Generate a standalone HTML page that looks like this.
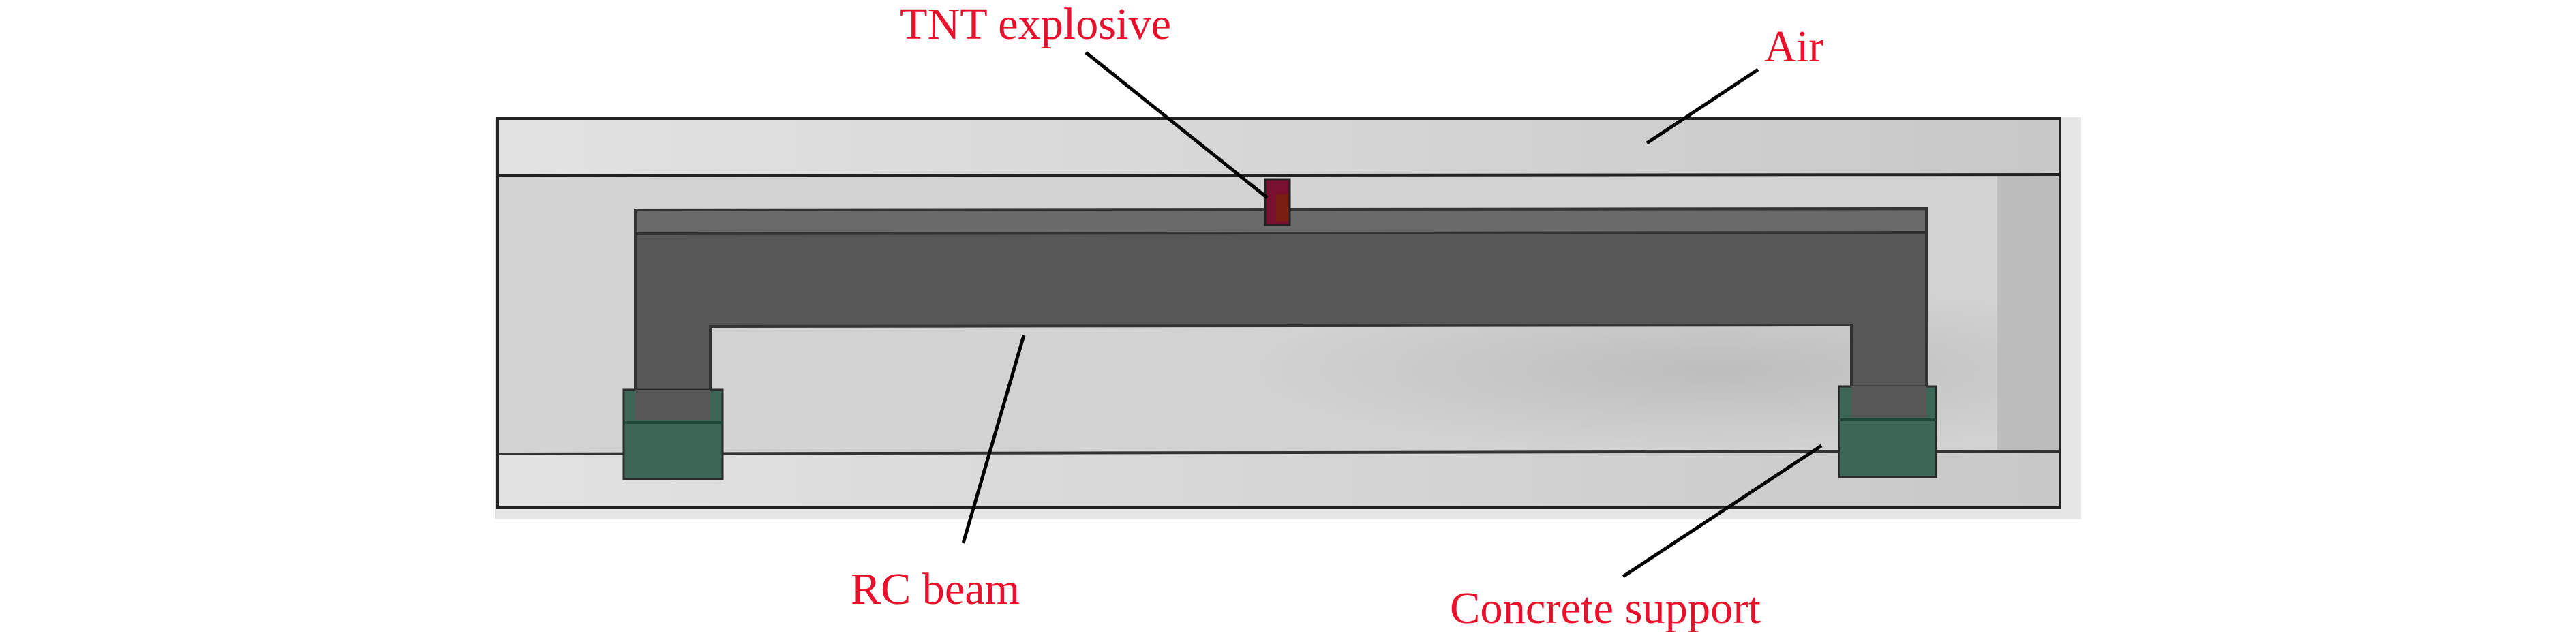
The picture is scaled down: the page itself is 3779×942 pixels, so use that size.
<!DOCTYPE html>
<html><head><meta charset="utf-8"><style>
html,body{margin:0;padding:0;background:#fff;}
</style></head><body>
<svg width="3779" height="937" viewBox="0 0 3779 937" xmlns="http://www.w3.org/2000/svg">
<defs>
<linearGradient id="bg" x1="0" y1="0" x2="1" y2="0">
<stop offset="0" stop-color="#e2e2e2"/><stop offset="0.5" stop-color="#d6d6d6"/><stop offset="1" stop-color="#c8c8c8"/>
</linearGradient>
<radialGradient id="sh" cx="0.78" cy="0.7" r="0.3">
<stop offset="0" stop-color="#bdbdbd"/><stop offset="1" stop-color="#bdbdbd" stop-opacity="0"/>
</radialGradient>
</defs>
<rect x="726" y="172" width="2327" height="590" fill="#e6e6e6"/>
<rect x="730" y="174" width="2292" height="571" fill="url(#bg)"/>
<rect x="730" y="258" width="2292" height="406" fill="#d2d2d2"/>
<rect x="2930" y="258" width="92" height="406" fill="#bcbcbc"/>
<rect x="730" y="258" width="2292" height="406" fill="url(#sh)"/>
<rect x="730" y="174" width="2292" height="571" fill="none" stroke="#222" stroke-width="4"/>
<line x1="730" y1="258" x2="3022" y2="256" stroke="#222" stroke-width="4"/>
<line x1="730" y1="666" x2="3022" y2="662" stroke="#333" stroke-width="4"/>
<path d="M932 308 L2826 306 L2826 612 L2716 612 L2716 477 L1042 479 L1042 614 L932 614 Z" fill="#575757" stroke="#333" stroke-width="4"/>
<rect x="934" y="309" width="1890" height="34" fill="#6a6a6a"/>
<line x1="932" y1="343" x2="2826" y2="341" stroke="#333" stroke-width="4"/>
<rect x="915" y="572" width="145" height="131" fill="#3c6656" stroke="#2a2a2a" stroke-width="3"/>
<rect x="932" y="572" width="110" height="44" fill="#575757"/>
<line x1="915" y1="620" x2="1060" y2="620" stroke="#1f4636" stroke-width="4"/>
<rect x="2698" y="567" width="142" height="133" fill="#3c6656" stroke="#2a2a2a" stroke-width="3"/>
<rect x="2716" y="567" width="110" height="46" fill="#575757"/>
<line x1="2698" y1="616" x2="2840" y2="616" stroke="#1f4636" stroke-width="4"/>
<rect x="1856" y="263" width="36" height="67" fill="#7a1030" stroke="#222" stroke-width="3"/>
<rect x="1872" y="285" width="18" height="40" fill="#7a1e10"/>
<g stroke="#000" stroke-width="5">
<line x1="1593" y1="77" x2="1859" y2="290"/>
<line x1="2579" y1="102" x2="2416" y2="210"/>
<line x1="1502" y1="492" x2="1413" y2="797"/>
<line x1="2672" y1="654" x2="2381" y2="846"/>
</g>
<g font-family="Liberation Serif, serif" font-size="66" fill="#e8102a">
<text x="1320" y="57" textLength="398" lengthAdjust="spacingAndGlyphs">TNT explosive</text>
<text x="2588" y="90" textLength="87" lengthAdjust="spacingAndGlyphs">Air</text>
<text x="1248" y="886" textLength="248" lengthAdjust="spacingAndGlyphs">RC beam</text>
<text x="2127" y="914" textLength="456" lengthAdjust="spacingAndGlyphs">Concrete support</text>
</g>
</svg>
</body></html>
